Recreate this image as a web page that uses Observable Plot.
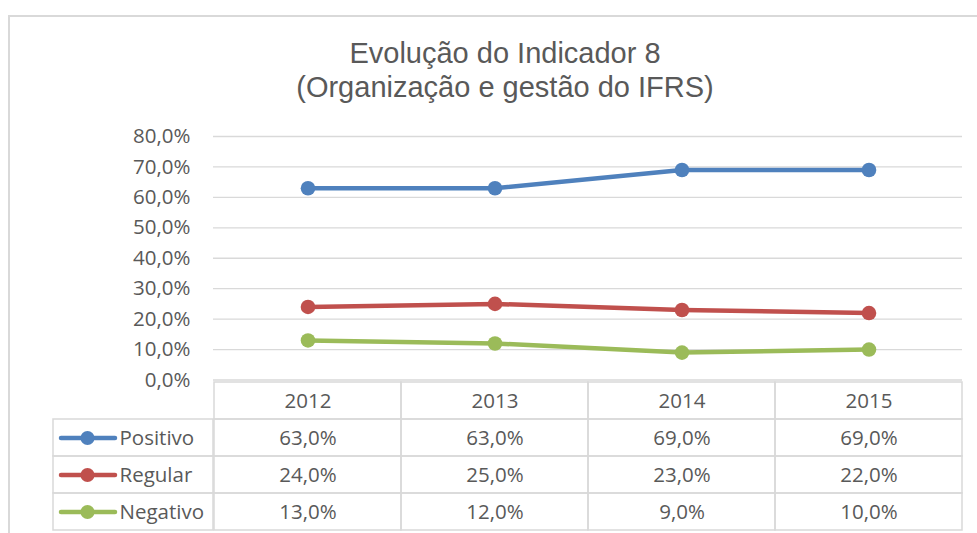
<!DOCTYPE html>
<html>
<head>
<meta charset="utf-8">
<script src="https://cdn.jsdelivr.net/npm/d3@7"></script>
<script src="https://cdn.jsdelivr.net/npm/@observablehq/plot@0.6"></script>
<style>
  html, body { margin: 0; padding: 0; background: #fff; }
  #wrap { position: relative; width: 977px; height: 533px; overflow: hidden; background: #fff; }
  #frame { position: absolute; left: 8px; top: 15px; width: 1000px; height: 600px; border: 2px solid #d9d9d9; box-sizing: border-box; }
  #title { position: absolute; left: 8px; width: 994px; top: 36px; text-align: center;
           font-family: "Liberation Sans", Arial, sans-serif; font-size: 29px; line-height: 34px; color: #595959; }
  .layer { position: absolute; left: 0; top: 0; }
  .layer svg { display: block; }
</style>
</head>
<body>
<div id="wrap">
  <div id="frame"></div>
  <div id="title">Evolução do Indicador 8<br>(Organização e gestão do IFRS)</div>
  <div id="chart" class="layer"></div>
  <div id="table" class="layer"></div>
  <div id="legend" class="layer"></div>
</div>
<script>
// ---- data ----
const years = ["2012", "2013", "2014", "2015"];
const seriesNames = ["Positivo", "Regular", "Negativo"];
const positivo = [0.63, 0.63, 0.69, 0.69];
const regular  = [0.24, 0.25, 0.23, 0.22];
const negativo = [0.13, 0.12, 0.09, 0.10];
const colors = ["#4f81bd", "#c0504d", "#9bbb59"];
const yTicks = [0, 0.1, 0.2, 0.3, 0.4, 0.5, 0.6, 0.7, 0.8];

const values = [positivo, regular, negativo];
const rows = seriesNames.flatMap((name, i) => years.map((year, j) => ({name, year, value: values[i][j]})));

const pt = d3.formatLocale({decimal: ",", thousands: ".", grouping: [3], currency: ["R$", ""]});
const pct = pt.format(".1%");

const W = 977, H = 533;
const FONT = "'Open Sans', Lato, sans-serif";
const FS = 20.5;
const TXT = "#595959";
const common = {
  width: W, height: H,
  marginLeft: 213, marginRight: 15,
  style: {fontFamily: FONT, fontSize: FS + "px", color: TXT, background: "transparent", overflow: "visible"}
};
const colorScale = {type: "ordinal", domain: seriesNames, range: colors};

// ---- line chart ----
const chart = Plot.plot({
  ...common,
  marginTop: 136, marginBottom: H - 379.5,
  x: {type: "band", domain: years, padding: 0, axis: null},
  y: {domain: [0, 0.8], ticks: yTicks},
  color: colorScale,
  marks: [
    Plot.gridY(yTicks, {stroke: "#d9d9d9", strokeOpacity: 1, strokeWidth: 1.3}),
    Plot.axisY(yTicks, {tickSize: 0, tickPadding: 23, tickFormat: pct, fill: TXT, fontSize: FS, label: null}),
    Plot.line(rows, {x: "year", y: "value", z: "name", stroke: "name", strokeWidth: 4.5, strokeLinecap: "round"}),
    Plot.dot(rows, {x: "year", y: "value", fill: "name", r: 7.3})
  ]
});
document.getElementById("chart").append(chart);

// ---- data table (year columns) ----
const tableRows = ["header", ...seriesNames];
const headerCells = years.map(year => ({name: "header", year, label: year}));
const valueCells = rows.map(d => ({name: d.name, year: d.year, label: pct(d.value)}));
const cells = [...headerCells, ...valueCells];

const table = Plot.plot({
  ...common,
  marginTop: 380, marginBottom: 2,
  x: {type: "band", domain: years, padding: 0, axis: null},
  y: {type: "band", domain: tableRows, padding: 0, axis: null},
  marks: [
    Plot.cell(cells, {x: "year", y: "name", fill: "none", stroke: "#d9d9d9", strokeWidth: 1.5}),
    Plot.text(cells, {x: "year", y: "name", text: "label", fill: TXT, fontSize: FS})
  ]
});
document.getElementById("table").append(table);

// ---- legend column ----
const legendData = seriesNames.map((name, i) => ({name, color: colors[i]}));
const legend = Plot.plot({
  ...common,
  marginLeft: 53, marginRight: W - 213,
  marginTop: 380, marginBottom: 2,
  x: {domain: [0, 160], axis: null},
  y: {type: "band", domain: tableRows, padding: 0, axis: null},
  marks: [
    Plot.barX(legendData, {y: "name", x1: 0, x2: 160, fill: "none", stroke: "#d9d9d9", strokeWidth: 1.5}),
    Plot.ruleY(legendData, {y: "name", x1: 8, x2: 62, stroke: "color", strokeWidth: 4.5, strokeLinecap: "round"}),
    Plot.dot(legendData, {y: "name", x: 34, fill: "color", r: 7}),
    Plot.text(legendData, {y: "name", x: 66, text: "name", textAnchor: "start", fill: TXT, fontSize: FS})
  ]
});
document.getElementById("legend").append(legend);
</script>
</body>
</html>
